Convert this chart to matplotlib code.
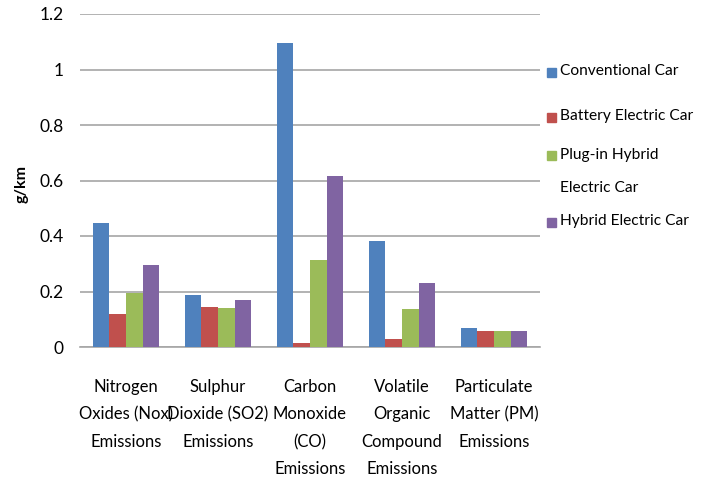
import numpy as np
import matplotlib
matplotlib.use('Agg')
from matplotlib import pyplot as plt
from matplotlib.patches import Rectangle

categories = ['Nitrogen\nOxides (Nox)\nEmissions', 'Sulphur\nDioxide (SO2)\nEmissions',
              'Carbon\nMonoxide\n(CO)\nEmissions', 'Volatile\nOrganic\nCompound\nEmissions',
              'Particulate\nMatter (PM)\nEmissions']
series_names = ['Conventional Car', 'Battery Electric Car', 'Plug-in Hybrid\nElectric Car',
                'Hybrid Electric Car']
conventional = [0.447, 0.187, 1.096, 0.382, 0.068]
battery = [0.120, 0.144, 0.014, 0.028, 0.058]
plugin_hybrid = [0.195, 0.140, 0.313, 0.137, 0.058]
hybrid = [0.295, 0.169, 0.616, 0.230, 0.058]
yticks = [0, 0.2, 0.4, 0.6, 0.8, 1, 1.2]
ytick_labels = ['0', '0.2', '0.4', '0.6', '0.8', '1', '1.2']

colors = ['#4f81bd', '#c0504d', '#9bbb59', '#8064a2']
plt.rcParams['font.family'] = ['Lato', 'DejaVu Sans']

W, H = 704, 487
fig = plt.figure(figsize=(W / 100, H / 100), dpi=100)
ax = fig.add_axes([80 / W, 1 - 347 / H, 460 / W, 333 / H])

x = np.arange(len(categories))
w = 0.18
for i, vals in enumerate([conventional, battery, plugin_hybrid, hybrid]):
    ax.bar(x + (i - 1.5) * w, vals, w, color=colors[i], zorder=3)

ax.set_xlim(-0.5, len(categories) - 0.5)
ax.set_ylim(0, 1.2)
ax.set_yticks(yticks)
ax.set_yticklabels(ytick_labels, fontsize=12.5)
ax.yaxis.grid(True, color='#a6a6a6', linewidth=1.2, zorder=0)
ax.set_xticks([])
for s in ['top', 'right', 'left']:
    ax.spines[s].set_visible(False)
ax.spines['bottom'].set_color('#a6a6a6')
ax.spines['bottom'].set_linewidth(1.2)
ax.tick_params(axis='y', length=0, pad=12)
fig.text(22 / W, 1 - 184 / H, 'g/km', rotation=90, ha='center', va='center',
         fontsize=11.5, fontweight='bold')

for i, c in enumerate(categories):
    ax.text(x[i], -0.115, c, ha='center', va='top', fontsize=12,
            linespacing=1.88, transform=ax.transData)

# legend, laid out by hand to follow the uneven spacing of the original
leg_y = [72, 117, 155, 222]
for i, name in enumerate(series_names):
    yc = 1 - leg_y[i] / H
    fig.patches.append(Rectangle((547 / W, yc - 4.5 / H), 9 / W, 9 / H,
                                 color=colors[i], transform=fig.transFigure))
    fig.text(560 / W, yc + 7.5 / H, name, ha='left', va='top', fontsize=11.2,
             linespacing=2.75)

fig.savefig('out.png', dpi=100)
